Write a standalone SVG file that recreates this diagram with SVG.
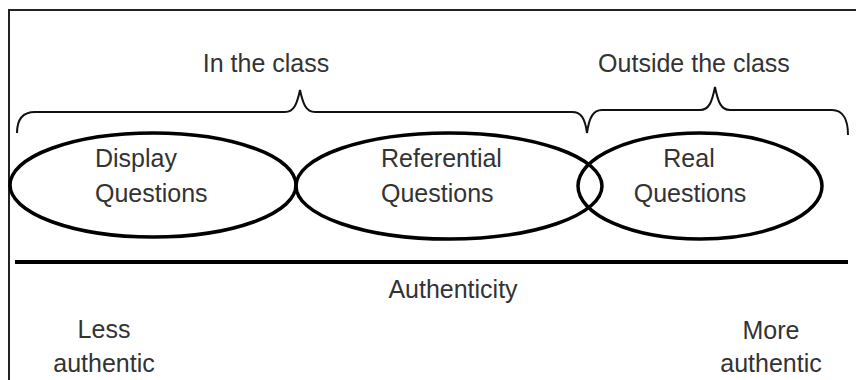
<svg xmlns="http://www.w3.org/2000/svg" width="856" height="380" viewBox="0 0 856 380">
  <style>
    .lbl { font-family: "Liberation Sans", Arial, sans-serif; font-size: 25px; fill: #333; }
    .mid { text-anchor: middle; }
    .oval { fill: none; stroke: #000; stroke-width: 3.5; }
    .brace { fill: none; stroke: #111; stroke-width: 2; }
  </style>
  <rect width="856" height="380" fill="#fff"/>
  <!-- frame (open on the right and bottom) -->
  <path d="M9,380 L9,10 L856,10" fill="none" stroke="#222" stroke-width="2"/>

  <!-- group labels with braces -->
  <g id="in-class">
    <path class="brace" d="M17,133 C17,120 22,112 35,112 L285,112 C294,112 297,104 300,90 C303,104 306,112 315,112 L572,112 C581,112 585,118 587,133"/>
    <text class="lbl mid" x="266" y="72">In the class</text>
  </g>
  <g id="outside-class">
    <path class="brace" d="M587,133 C589,118 593,110 602,110 L700,110 C709,110 712,102 715,87 C718,102 721,110 730,110 L832,110 C843,110 848,120 848,135"/>
    <text class="lbl mid" x="694" y="72">Outside the class</text>
  </g>

  <!-- question types -->
  <g id="display">
    <ellipse class="oval" cx="153" cy="185" rx="143" ry="52"/>
    <text class="lbl" x="95" y="167">Display</text>
    <text class="lbl" x="95" y="202">Questions</text>
  </g>
  <g id="referential">
    <ellipse class="oval" cx="449" cy="186" rx="153" ry="53"/>
    <text class="lbl" x="381" y="167">Referential</text>
    <text class="lbl" x="381" y="202">Questions</text>
  </g>
  <g id="real">
    <ellipse class="oval" cx="700" cy="186" rx="122" ry="53"/>
    <text class="lbl mid" x="689" y="167">Real</text>
    <text class="lbl mid" x="690" y="202">Questions</text>
  </g>

  <!-- authenticity axis -->
  <g id="axis">
    <line x1="15" y1="262" x2="848" y2="262" stroke="#000" stroke-width="4"/>
    <text class="lbl mid" x="453" y="298">Authenticity</text>
  </g>
  <g id="less">
    <text class="lbl mid" x="104" y="338">Less</text>
    <text class="lbl mid" x="104" y="372">authentic</text>
  </g>
  <g id="more">
    <text class="lbl mid" x="771" y="339">More</text>
    <text class="lbl mid" x="771" y="372">authentic</text>
  </g>
</svg>
